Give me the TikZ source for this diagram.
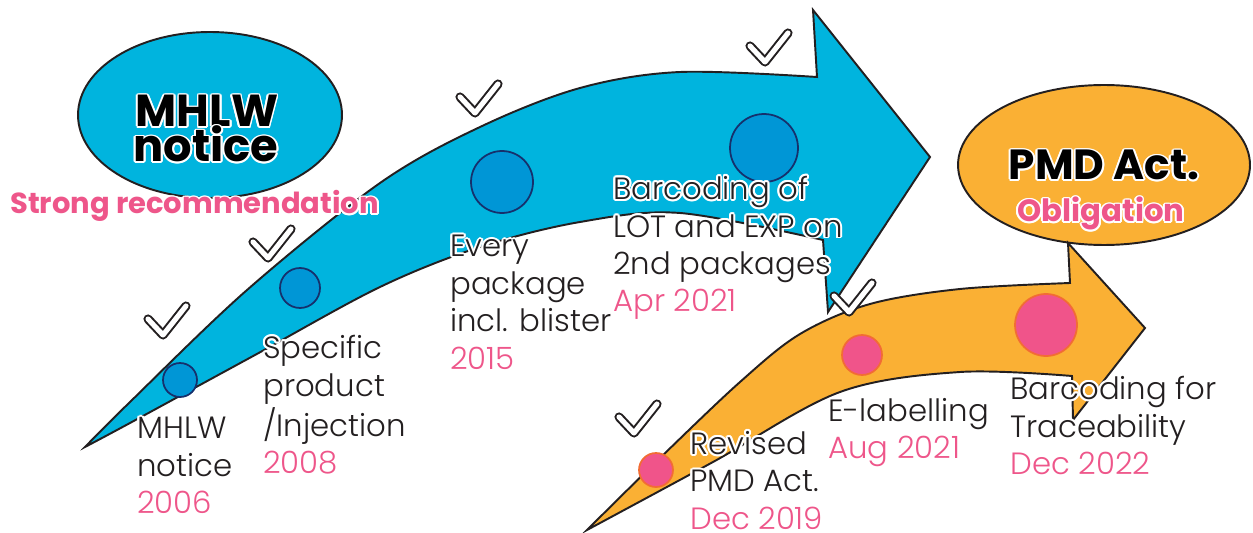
\documentclass[tikz,border=0pt]{standalone}
\usepackage{fontspec}
\setmainfont{Poppins Light}
\newfontfamily\headfont{Poppins Bold}
\usepackage{contour}
\contourlength{1.1pt}
\contournumber{12}
\usetikzlibrary{shapes.geometric}

\definecolor{cyanarrow}{RGB}{0,180,222}
\definecolor{dotblue}{RGB}{0,150,214}
\definecolor{navy}{RGB}{22,48,108}
\definecolor{orangearrow}{RGB}{250,176,52}
\definecolor{dotpink}{RGB}{240,84,138}
\definecolor{dotrim}{RGB}{242,108,52}
\definecolor{pinktxt}{RGB}{238,86,138}
\definecolor{textgray}{RGB}{35,31,32}

\newcommand\wl[1]{\contour{white}{#1}}
\newcommand\yr[1]{\textcolor{pinktxt}{#1}}

\tikzset{
  tickmark/.pic={
    \draw[line width=5.2pt,line cap=round,line join=round,textgray] (-15,-16) -- (0,0) -- (23,-29);
    \draw[line width=2.9pt,line cap=round,line join=round,white] (-15,-16) -- (0,0) -- (23,-29);
  }
}

\begin{document}
\begin{tikzpicture}[x=0.02cm,y=-0.02cm,
  edge/.style={draw=textgray,line width=1.1pt,line join=miter},
  bubble/.style={ellipse,draw=textgray,line width=1.1pt,inner sep=0pt},
  dotb/.style={circle,draw=navy,fill=dotblue,line width=1pt,inner sep=0pt,minimum size={#1*0.04cm}},
  dotp/.style={circle,draw=dotrim,fill=dotpink,line width=1pt,inner sep=0pt,minimum size={#1*0.04cm}},
  tag/.style={anchor=north west,inner sep=0pt,align=left,text=textgray,font=\fontsize{17.5}{21.3}\selectfont},
  head/.style={inner sep=0pt,anchor=base,font=\headfont\fontsize{25.5}{30}\selectfont}]
\useasboundingbox (0,0) rectangle (1253,533);

% speech bubbles
\node[bubble,fill=cyanarrow,minimum width=5.28cm,minimum height=3.32cm] (mhlw) at (210,115) {};
\node[bubble,fill=orangearrow,minimum width=5.84cm,minimum height=3.2cm] (pmd) at (1104,165) {};

% blue arrow
\draw[edge,fill=cyanarrow] plot[smooth,tension=0.55] coordinates
  {(85,447) (130,402) (247,290) (380,183) (480,127) (580,88) (680,72) (817,77)}
  -- (813,10) -- (930,157) -- (828,312) -- (823,240)
  -- plot[smooth,tension=0.55] coordinates
  {(823,240) (680,213) (580,222) (480,247) (380,287) (255,355) (130,423) (85,447)}
  -- cycle;

% orange arrow
\draw[edge,fill=orangearrow] plot[smooth,tension=0.55] coordinates
  {(587,530) (660,458) (740,382) (800,334) (870,304) (960,289) (1070,283)}
  -- (1068,243) -- (1145,328) -- (1073,420) -- (1072,376)
  -- plot[smooth,tension=0.55] coordinates
  {(1072,376) (960,372) (840,392) (713,462) (587,530)}
  -- cycle;

% milestones
\node[dotb=17] (d1) at (180,380) {};
\node[dotb=20] (d2) at (300,288) {};
\node[dotb=31] (d3) at (502,182) {};
\node[dotb=34] (d4) at (764,148) {};
\node[dotp=17] (p1) at (656,470) {};
\node[dotp=20] (p2) at (862,355) {};
\node[dotp=31] (p3) at (1046,325) {};

\pic at (163,335) {tickmark};
\pic at (268,258) {tickmark};
\pic at (475,113) {tickmark};
\pic at (765,62) {tickmark};
\pic at (849,312) {tickmark};
\pic at (634,433) {tickmark};

% headings
\node[head] (hm1) at (207,127) {\contour{white}{MHLW}};
\node[head] (hm2) at (206,162) {\contour{white}{notice}};
\node[head,anchor=base west,text=pinktxt,font=\headfont\fontsize{16.5}{20}\selectfont] (strong) at (10,214) {\contour{white}{Strong recommendation}};
\node[head,font=\headfont\fontsize{24}{28}\selectfont] (hp1) at (1104,180) {\contour{white}{PMD Act.}};
\node[head,text=pinktxt,font=\headfont\fontsize{17.5}{20}\selectfont] (hp2) at (1101,222) {\contour{white}{Obligation}};

% labels
\node[tag] (t1) at (137,417) {\wl{MHLW}\\\wl{notice}\\\yr{2006}};
\node[tag] (t2) at (263,335) {\wl{Specific}\\\wl{product}\\\wl{/Injection}\\\yr{2008}};
\node[tag] (t3) at (450,235) {\wl{Every}\\\wl{package}\\\wl{incl. blister}\\\yr{2015}};
\node[tag] (t4) at (613,176) {\wl{Barcoding of}\\\wl{LOT and EXP on}\\\wl{2nd packages}\\\yr{Apr 2021}};
\node[tag] (t5) at (690,431) {\wl{Revised}\\\wl{PMD Act.}\\\yr{Dec 2019}};
\node[tag] (t6) at (828,398) {\wl{E-labelling}\\\yr{Aug 2021}};
\node[tag] (t7) at (1010,376) {\wl{Barcoding for}\\\wl{Traceability}\\\yr{Dec 2022}};
\end{tikzpicture}
\end{document}
